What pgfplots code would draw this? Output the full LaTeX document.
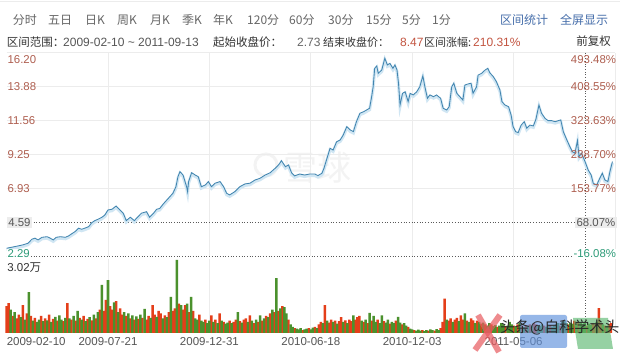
\documentclass[border=0pt]{standalone}
\usepackage{pgfplots}
\pgfplotsset{compat=1.18}
\usepackage{fontspec}
\setmainfont{Liberation Sans}
\newfontfamily\cjk{Noto Sans CJK SC}
\definecolor{tbgrey}{RGB}{102,102,102}
\definecolor{tbblue}{RGB}{70,110,170}
\definecolor{dark}{RGB}{51,51,51}
\definecolor{midgrey}{RGB}{85,85,85}
\definecolor{upred}{RGB}{195,85,65}
\definecolor{plab}{RGB}{175,95,80}
\definecolor{glab}{RGB}{45,155,120}
\definecolor{gridc}{RGB}{236,236,236}
\definecolor{dotc}{RGB}{90,90,90}
\definecolor{pline}{RGB}{66,133,175}
\definecolor{halo}{RGB}{208,230,243}
\definecolor{vred}{RGB}{228,62,25}
\definecolor{vgreen}{RGB}{75,145,45}
\definecolor{wm}{RGB}{243,243,243}
\pgfplotstableread{
x y
0 2.82
8 2.93
16 3.05
21 3.16
25 3.44
28 3.51
31 3.39
35 3.57
40 3.61
43 3.51
46 3.39
49 3.57
53 3.61
58 3.57
61 3.66
64 3.80
67.5 3.96
71 4.19
74 4.12
77 4.19
81 4.30
84 4.57
87 4.71
90 4.80
94 4.94
97 5.10
100 5.44
104 5.49
108 5.71
111 5.49
115 5.22
118 4.71
122 4.94
126 4.71
129 4.94
133 5.22
138 5.32
141 4.94
145 5.22
148 5.49
151 5.54
154.5 5.85
158 6.12
161 6.35
164 6.58
167 7.03
169 7.72
171 8.06
174 7.83
177.5 7.03
178.5 6.69
179.5 7.38
182.5 7.99
186 7.83
189 7.72
192 7.03
196 7.15
199 7.38
202 7.03
205.5 7.27
210.5 7.38
214 7.03
217 6.58
220 6.47
225 6.69
230 7.03
235 7.22
240 7.27
245 7.49
250 7.61
255 7.83
260 7.99
263 8.18
266 8.36
269 8.59
271 8.81
275 8.40
278 8.52
281 7.99
284 7.77
289 7.90
294 7.83
299 7.90
304 7.90
307 7.79
311 7.95
313 8.29
316 8.98
319 9.66
322 9.54
325.5 10.11
329 10.23
332 10.57
335.5 11.14
339 10.91
342 10.80
345 11.48
348.5 12.06
352 12.16
355 12.28
358 12.40
360 13.19
361.5 13.87
363 15.13
365 15.29
366.5 14.79
370 15.02
373 15.82
375.5 15.36
378 15.47
381 15.13
383 15.36
385 15.02
386.5 14.11
388 12.62
390.5 13.42
393 13.53
396 12.85
398 13.42
401 13.31
404.5 13.53
407.5 13.87
410.5 14.61
412.5 13.87
415 13.08
417.5 13.31
421 13.19
424 13.31
428 13.08
430.5 12.40
434 12.28
436.5 12.51
439 13.87
441 14.11
444 13.42
447 13.19
450 12.96
452 13.99
455 14.06
458 14.11
460 13.42
463.5 13.87
465 14.67
468.5 14.79
472 15.02
474.5 15.13
476.5 14.83
480 14.56
483 14.22
486.5 13.65
488.5 12.85
491.5 12.62
495 12.51
497.5 11.94
499.5 11.14
502 10.80
504.5 10.73
507.5 11.25
510.5 11.48
513 11.03
516 11.25
519.5 11.19
522 11.64
525 12.62
527.5 12.06
531 11.71
534 11.55
537.5 11.55
541 11.48
544 11.55
546.5 11.60
549 10.80
552.5 10.23
555.5 9.77
558 9.43
560.5 9.32
563 10.18
564.5 9.09
567 9.32
570.5 8.74
573.5 8.18
576.5 7.83
578.5 7.27
582 7.15
585 7.61
587.5 7.95
590 7.49
593 7.38
595 8.06
597.5 8.75
}\pricetab
\begin{document}
\begin{tikzpicture}[x=1pt,y=1pt]
\path[use as bounding box, fill=white] (0,0) rectangle (640,355);
\draw[color=gridc, line width=0.8pt] (0,353.3) -- (620,353.3);
% toolbar
\begin{scope}[every node/.style={anchor=west, inner sep=0pt, font=\cjk\fontsize{12}{13}\selectfont, text=tbgrey}]
\node at (12.7,335) {分时};
\node at (48,335) {五日};
\node at (85,335) {日K};
\node at (117,335) {周K};
\node at (150,335) {月K};
\node at (182,335) {季K};
\node at (213,335) {年K};
\node at (247,335) {120分};
\node at (289,335) {60分};
\node at (328,335) {30分};
\node at (366,335) {15分};
\node at (402,335) {5分};
\node at (432,335) {1分};
\node[text=tbblue] at (500,335) {区间统计};
\node[text=tbblue] at (560,335) {全屏显示};
\end{scope}
% info line
\begin{scope}[every node/.style={anchor=west, inner sep=0pt, font=\fontsize{12}{13}\selectfont}]
\node[text=dark, font=\cjk\fontsize{11.5}{13}\selectfont] at (6.7,313) {区间范围：};
\node[text=midgrey] at (63,313) {2009-02-10 {\char"007E} 2011-09-13};
\node[text=dark, font=\cjk\fontsize{11.5}{13}\selectfont] at (213,313) {起始收盘价：};
\node[text=tbgrey] at (297,313) {2.73};
\node[text=dark, font=\cjk\fontsize{11}{13}\selectfont] at (323,313) {结束收盘价：};
\node[text=upred] at (400,313) {8.47};
\node[text=dark, font=\cjk\fontsize{11}{13}\selectfont] at (424,313) {区间涨幅:};
\node[text=upred] at (473,313) {210.31\%};
\node[anchor=east, text=dark, font=\cjk\fontsize{11.5}{13}\selectfont] at (611,314) {前复权};
\end{scope}
% faint watermark
\draw[color=wm, line width=3pt] (266,190) circle (11);
\node[anchor=west, inner sep=0pt, text=wm, font=\cjk\fontsize{34}{36}\selectfont] at (283,187) {雪球};
% price axis
\begin{axis}[at={(6.6pt,99pt)}, anchor=south west, scale only axis,
  width=608.4pt, height=203.3pt, xmin=0, xmax=600, ymin=2.29, ymax=16.20,
  axis line style={draw=none}, tick style={draw=none},
  xtick={100,200,300,400,500,600}, xticklabels={},
  ytick={6.93,9.25,11.56,13.88,16.20}, yticklabels={},
  xmajorgrids, ymajorgrids, major grid style={color=gridc, line width=0.7pt},
  extra x ticks={571}, extra x tick labels={},
  extra x tick style={grid=major, major grid style={dotted, color=dotc, line width=0.8pt}},
  extra y ticks={2.29,4.59}, extra y tick labels={},
  extra y tick style={grid=major, major grid style={dotted, color=dotc, line width=0.8pt}},
  clip=false]
\addplot[color=halo, line width=3pt, yshift=-1.5pt] table[x=x,y=y] {\pricetab};
\addplot[color=pline, line width=0.85pt] table[x=x,y=y] {\pricetab};
\begin{scope}[every node/.style={inner sep=0.8pt, font=\fontsize{11.4}{12}\selectfont}]
\node[anchor=west, text=plab] at (axis cs:0,16.20) [yshift=-7pt] {16.20};
\node[anchor=west, text=plab] at (axis cs:0,13.88) {13.88};
\node[anchor=west, text=plab] at (axis cs:0,11.56) {11.56};
\node[anchor=west, text=plab] at (axis cs:0,9.25) {9.25};
\node[anchor=west, text=plab] at (axis cs:0,6.93) {6.93};
\node[anchor=west, text=midgrey, fill=gridc, inner sep=1.5pt] at (axis cs:0,4.59) {4.59};
\node[anchor=west, text=glab, fill=white] at (axis cs:0,2.29) [yshift=2pt] {2.29};
\node[anchor=east, text=plab] at (axis cs:600,16.20) [xshift=2pt, yshift=-7pt] {493.48\%};
\node[anchor=east, text=plab] at (axis cs:600,13.88) [xshift=2pt] {408.55\%};
\node[anchor=east, text=plab] at (axis cs:600,11.56) [xshift=2pt] {323.63\%};
\node[anchor=east, text=plab] at (axis cs:600,9.25) [xshift=2pt] {238.70\%};
\node[anchor=east, text=plab] at (axis cs:600,6.93) [xshift=2pt] {153.77\%};
\node[anchor=east, text=midgrey, fill=gridc, inner sep=1.5pt] at (axis cs:600,4.59) [xshift=2pt] {68.07\%};
\node[anchor=east, text=glab, fill=white] at (axis cs:600,2.29) [xshift=2pt, yshift=2pt] {-16.08\%};
\end{scope}
\end{axis}
% volume axis
\begin{axis}[at={(6.6pt,22pt)}, anchor=south west, scale only axis,
  width=608.4pt, height=74pt, xmin=0, xmax=600, ymin=0, ymax=3.02,
  axis line style={draw=none}, tick style={draw=none},
  xtick={100,200,300,400,500,600}, xticklabels={}, ytick=\empty,
  xmajorgrids, major grid style={color=gridc, line width=0.7pt},
  extra x ticks={571}, extra x tick labels={},
  extra x tick style={grid=major, major grid style={dotted, color=dotc, line width=0.8pt}},
  clip=false]
\addplot[ybar, bar width=2.5pt, bar shift=0pt, fill=vred, draw=none] coordinates {
(0,1.10)(2,1.22)(6,0.70)(10,0.60)(12,0.75)(16,1.14)(20,0.80)(24,0.70)(28,0.62)(34,0.70)(38,0.60)(42,0.75)(46,0.58)(50,0.50)(56,0.48)(60,1.22)(64,0.55)(68,0.50)(72,0.62)(76,0.70)(80,0.58)(84,0.52)(88,0.60)(92,0.95)(96,0.90)(98,1.35)(102,1.10)(104,0.95)(108,1.30)(112,1.00)(114,0.75)(118,0.70)(122,0.60)(126,0.55)(130,0.58)(134,0.62)(138,0.55)(140,0.70)(144,1.14)(146,0.75)(150,0.90)(152,0.80)(156,0.72)(160,0.85)(164,0.90)(166,1.00)(170,1.20)(174,0.95)(176,1.14)(180,0.85)(184,0.90)(190,0.75)(196,0.55)(202,0.72)(206,0.55)(210,0.80)(214,0.45)(220,0.50)(224,0.45)(226,0.55)(230,0.48)(234,0.55)(236,0.60)(240,0.72)(244,0.40)(248,0.45)(252,0.50)(256,0.70)(260,0.80)(264,0.85)(268,0.90)(272,1.10)(278,0.55)(284,0.20)(292,0.12)(298,0.20)(304,0.25)(308,0.35)(310,0.45)(314,1.14)(318,0.42)(320,0.55)(324,0.50)(328,0.48)(330,0.65)(334,0.52)(338,0.55)(340,0.48)(344,0.55)(346,0.65)(348,0.70)(352,0.45)(356,0.40)(360,0.50)(366,0.55)(372,0.48)(378,0.38)(384,0.50)(390,0.35)(396,0.25)(402,0.12)(410,0.12)(416,0.10)(422,0.10)(428,0.20)(430,0.45)(432,1.40)(436,0.50)(438,0.60)(442,0.55)(444,0.62)(448,0.72)(450,0.55)(454,0.50)(458,0.60)(460,0.52)(464,0.50)(468,0.38)(472,0.35)(478,0.35)(484,0.25)(492,0.28)(500,0.30)(504,0.35)(508,0.30)(512,0.32)(516,0.35)(520,0.40)(522,0.35)(530,0.30)(536,0.32)(546,0.30)(554,0.35)(560,0.50)(564,0.45)(572,0.30)(578,0.40)(580,0.35)(584,1.02)(586,0.40)(590,0.30)(594,0.35)(596,0.40)
};
\addplot[ybar, bar width=2.5pt, bar shift=0pt, fill=vgreen, draw=none] coordinates {
(4,0.95)(8,0.85)(14,0.65)(18,0.55)(22,1.67)(26,0.50)(30,0.45)(32,0.55)(36,0.48)(40,0.52)(44,0.45)(48,0.66)(52,0.72)(54,0.55)(58,0.62)(62,0.60)(66,0.70)(70,0.90)(74,0.55)(78,0.48)(82,0.65)(86,0.75)(90,0.85)(94,1.96)(100,2.16)(106,1.25)(110,0.85)(116,0.85)(120,0.80)(124,0.72)(128,0.68)(132,0.75)(136,0.98)(142,0.62)(148,0.66)(154,0.60)(158,0.65)(162,1.47)(168,2.98)(172,1.14)(178,1.20)(182,1.47)(186,0.60)(188,0.55)(192,0.50)(194,0.45)(198,0.40)(200,0.50)(204,0.45)(208,0.40)(212,0.50)(216,0.38)(218,0.42)(222,0.40)(228,0.85)(232,0.42)(238,0.45)(242,0.50)(246,0.55)(250,0.72)(254,0.60)(258,0.65)(262,0.95)(266,2.24)(270,1.00)(274,1.06)(276,0.80)(280,0.35)(282,0.25)(286,0.18)(288,0.15)(290,0.20)(294,0.15)(296,0.18)(300,0.15)(302,0.22)(306,0.20)(312,0.40)(316,0.50)(322,0.45)(326,0.38)(332,0.45)(336,0.40)(342,0.72)(350,0.50)(354,0.55)(358,0.82)(362,0.70)(364,0.45)(368,0.40)(370,0.72)(374,0.42)(376,0.55)(380,0.45)(382,0.40)(386,0.66)(388,0.42)(392,0.40)(394,0.30)(398,0.18)(400,0.15)(404,0.10)(406,0.14)(408,0.10)(412,0.08)(414,0.12)(418,0.15)(420,0.12)(424,0.16)(426,0.12)(434,0.55)(440,0.45)(446,0.48)(452,0.80)(456,0.45)(462,0.40)(466,0.45)(470,0.42)(474,0.30)(476,0.40)(480,0.28)(482,0.32)(486,0.30)(488,0.40)(490,0.35)(494,0.30)(496,0.45)(498,0.35)(502,0.28)(506,0.40)(510,0.25)(514,0.28)(518,0.30)(524,0.30)(526,0.28)(528,0.35)(532,0.25)(534,0.28)(538,0.26)(540,0.30)(542,0.35)(544,0.40)(548,0.45)(550,0.50)(552,0.40)(556,0.42)(558,0.38)(562,0.35)(566,0.40)(568,0.35)(570,0.42)(574,0.38)(576,0.32)(582,0.45)(588,0.35)(592,0.28)
};
\node[anchor=west, inner sep=0.5pt, text=dark, font=\fontsize{11.5}{12}\selectfont] at (axis cs:0,3.02) [yshift=-9pt] {3.02{\cjk 万}};
\begin{scope}[every node/.style={inner sep=0pt, text=midgrey, font=\fontsize{11.5}{12}\selectfont}]
\node[anchor=west] at (axis cs:0,0) [yshift=-9pt] {2009-02-10};
\node at (axis cs:100,0) [yshift=-9pt] {2009-07-21};
\node at (axis cs:200,0) [yshift=-9pt] {2009-12-31};
\node at (axis cs:300,0) [yshift=-9pt] {2010-06-18};
\node at (axis cs:400,0) [yshift=-9pt] {2010-12-03};
\node at (axis cs:500,0) [yshift=-9pt] {2011-05-06};
\end{scope}
\end{axis}
% bottom-right overlay watermark
\draw[color={rgb,255:red,232;green,90;blue,95}, opacity=0.7, line width=6pt] (478,40) -- (499,3);
\draw[color={rgb,255:red,232;green,90;blue,95}, opacity=0.7, line width=6pt] (500,40) -- (475,5);
\fill[color={rgb,255:red,95;green,145;blue,220}, opacity=0.65, rounded corners=2pt] (520,7) rectangle (567,40);
\fill[color={rgb,255:red,95;green,185;blue,115}, opacity=0.65] (578,6) -- (613,6) -- (608,37) -- (573,37) -- cycle;
\node[anchor=west, inner sep=0pt, text={rgb,255:red,40;green,40;blue,40}, font=\cjk\fontsize{15}{16}\selectfont] at (500,27.5) {头条@自科学术头};
\end{tikzpicture}
\end{document}
